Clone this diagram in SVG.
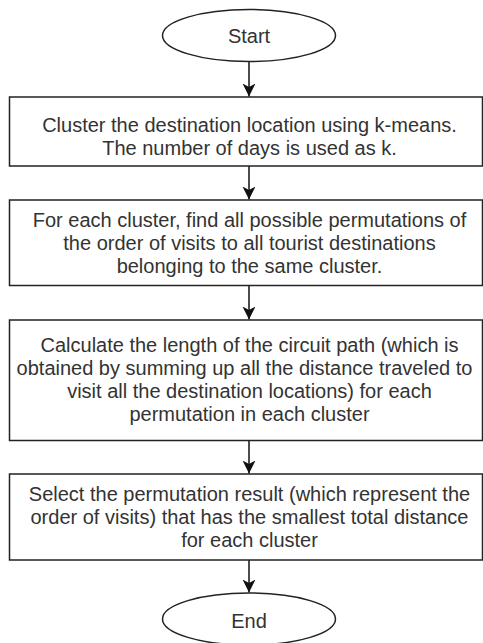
<svg xmlns="http://www.w3.org/2000/svg" width="483" height="643" viewBox="0 0 483 643">
<defs>
<style>
.shape{fill:#fff;stroke:#222;stroke-width:1.5}
.conn{fill:none;stroke:#111;stroke-width:1.5}
text{font-family:"Liberation Sans",Arial,sans-serif;font-size:20px;fill:#333;text-anchor:middle}
</style>
<marker id="arrow" markerUnits="userSpaceOnUse" markerWidth="14" markerHeight="16" viewBox="0 0 14 16" refX="13" refY="8" orient="auto">
<path d="M0,1.5 L13,8 L0,14.5 L3.5,8 Z" fill="#111"/>
</marker>
</defs>
<rect width="483" height="643" fill="#fff"/>
<g id="connectors">
<line class="conn" x1="249" y1="62" x2="249" y2="96.5" marker-end="url(#arrow)"/>
<line class="conn" x1="249" y1="166" x2="249" y2="199.5" marker-end="url(#arrow)"/>
<line class="conn" x1="249" y1="285.5" x2="249" y2="319.5" marker-end="url(#arrow)"/>
<line class="conn" x1="249" y1="440.5" x2="249" y2="473.5" marker-end="url(#arrow)"/>
<line class="conn" x1="249" y1="560" x2="249" y2="592.5" marker-end="url(#arrow)"/>
</g>
<g id="start">
<ellipse class="shape" cx="249" cy="35.5" rx="86.5" ry="26"/>
<text x="249" y="43">Start</text>
</g>
<g id="step1">
<rect class="shape" x="9.5" y="97" width="473" height="69"/>
<text x="249.5" y="132">Cluster the destination location using k-means.</text>
<text x="249.5" y="155">The number of days is used as k.</text>
</g>
<g id="step2">
<rect class="shape" x="9.5" y="200" width="473" height="85.5"/>
<text x="249.5" y="227">For each cluster, find all possible permutations of</text>
<text x="249.5" y="250">the order of visits to all tourist destinations</text>
<text x="249.5" y="273">belonging to the same cluster.</text>
</g>
<g id="step3">
<rect class="shape" x="9.5" y="320" width="473" height="120.5"/>
<text x="249.5" y="352">Calculate the length of the circuit path (which is</text>
<text x="244.5" y="375">obtained by summing up all the distance traveled to</text>
<text x="249.5" y="398">visit all the destination locations) for each</text>
<text x="249.5" y="421">permutation in each cluster</text>
</g>
<g id="step4">
<rect class="shape" x="9.5" y="474" width="473" height="86"/>
<text x="249.5" y="500.5">Select the permutation result (which represent the</text>
<text x="249.5" y="523.5">order of visits) that has the smallest total distance</text>
<text x="249.5" y="546.5">for each cluster</text>
</g>
<g id="end">
<ellipse class="shape" cx="249" cy="619" rx="86.5" ry="26"/>
<text x="249" y="628">End</text>
</g>
</svg>
